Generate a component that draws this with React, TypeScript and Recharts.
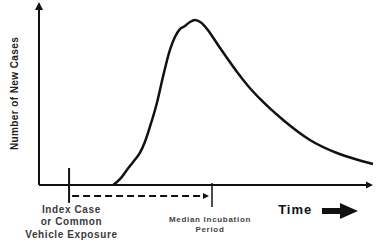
import { LineChart, Line, XAxis, YAxis, ReferenceLine, ReferenceDot } from "recharts";

// epidemic curve, point source outbreak (arbitrary units: time 0-100, cases 0-100)
const time = [
  22.2, 24.3, 26.3, 28.4, 30.2, 31.7, 33.2, 35.3, 37.1, 39.2, 40.7, 42.2, 43.7,
  45.2, 46.7, 48.5, 51.2, 53.6, 56.3, 59.3, 62.6, 66.2, 73.1, 81.1, 89.2, 94.6, 100,
];
const newCases = [
  0, 3.3, 8.2, 13.1, 17.5, 23.5, 31.7, 44.8, 59.0, 73.8, 80.9, 85.2, 86.9,
  89.1, 90.2, 88.8, 83.1, 76.5, 69.4, 61.7, 54.1, 47.0, 35.5, 24.6, 17.5, 14.2, 11.5,
];

const INDEX_EXPOSURE = 9;
const MEDIAN_INCUBATION = 51.8;

const yAxisTitle = "Number of New Cases";
const indexLabel = ["Index Case", "or Common", "Vehicle Exposure"];
const medianLabel = ["Median Incubation", "Period"];
const timeLabel = "Time";

const data = time.map((t, i) => ({ t, cases: newCases[i] }));

const FONT = "'Liberation Sans', Arial, sans-serif";
const INK = "#111";

function Head({ cx, cy, dir, len = 7, half = 3.5 }: any) {
  const pts =
    dir === "up"
      ? `${cx},${cy} ${cx - half},${cy + len} ${cx + half},${cy + len}`
      : `${cx},${cy} ${cx - len},${cy - half} ${cx - len},${cy + half}`;
  return <polygon points={pts} fill={INK} />;
}

function BigArrow({ cx, cy }: any) {
  // cx,cy = tip
  const pts = [
    [cx, cy],
    [cx - 18, cy - 8],
    [cx - 18, cy - 3],
    [cx - 36, cy - 3],
    [cx - 36, cy + 3],
    [cx - 18, cy + 3],
    [cx - 18, cy + 8],
  ]
    .map((p) => p.join(","))
    .join(" ");
  return <polygon points={pts} fill={INK} />;
}

function Lines({ cx, cy, lines, size, color, gap, spacing, anchor = "middle", weight = 700 }: any) {
  return (
    <text
      x={cx}
      y={cy}
      textAnchor={anchor}
      fontFamily={FONT}
      fontSize={size}
      fontWeight={weight}
      fill={color}
      letterSpacing={spacing}
    >
      {lines.map((l: string, i: number) => (
        <tspan key={l} x={cx} dy={i === 0 ? 0 : gap}>
          {l}
        </tspan>
      ))}
    </text>
  );
}

export default function App() {
  return (
    <div style={{ position: "absolute", left: 0, top: 0, background: "#fff" }}>
      <LineChart width={378} height={245} data={data} margin={{ top: 0, right: 0, bottom: 0, left: 0 }}>
        <XAxis dataKey="t" type="number" domain={[-11.68, 101.5]} hide />
        <YAxis type="number" domain={[-32.8, 101.1]} hide />

        {/* axes */}
        <ReferenceLine segment={[{ x: 0, y: 0 }, { x: 0, y: 96.5 }]} stroke={INK} strokeWidth={2} />
        <ReferenceDot x={0} y={100} r={0} shape={(p: any) => <Head {...p} dir="up" len={8} half={4} />} />
        <ReferenceLine segment={[{ x: 0, y: 0 }, { x: 98, y: 0 }]} stroke={INK} strokeWidth={2} />
        <ReferenceDot x={100} y={0} r={0} shape={(p: any) => <Head {...p} dir="right" len={7} half={3.5} />} />

        {/* exposure and median incubation markers */}
        <ReferenceLine
          segment={[{ x: INDEX_EXPOSURE, y: 9.3 }, { x: INDEX_EXPOSURE, y: -9.8 }]}
          stroke={INK}
          strokeWidth={2}
        />
        <ReferenceLine
          segment={[{ x: MEDIAN_INCUBATION, y: 1.1 }, { x: MEDIAN_INCUBATION, y: -12 }]}
          stroke={INK}
          strokeWidth={1.5}
        />
        <ReferenceLine
          segment={[{ x: INDEX_EXPOSURE + 0.9, y: -6 }, { x: MEDIAN_INCUBATION - 2.2, y: -6 }]}
          stroke={INK}
          strokeWidth={2}
          strokeDasharray="7 4"
        />
        <ReferenceDot
          x={MEDIAN_INCUBATION - 0.9}
          y={-6}
          r={0}
          shape={(p: any) => <Head {...p} dir="right" len={6} half={3} />}
        />

        <Line
          dataKey="cases"
          type="monotone"
          stroke={INK}
          strokeWidth={2.5}
          dot={false}
          activeDot={false}
          isAnimationActive={false}
        />

        {/* texts */}
        <ReferenceDot
          x={-7.2}
          y={50}
          r={0}
          shape={({ cx, cy }: any) => (
            <text
              x={cx}
              y={cy}
              transform={`rotate(-90 ${cx} ${cy})`}
              textAnchor="middle"
              dominantBaseline="central"
              fontFamily={FONT}
              fontSize={10}
              fontWeight={700}
              letterSpacing={0.4}
              fill="#222"
            >
              {yAxisTitle}
            </text>
          )}
        />
        <ReferenceDot
          x={INDEX_EXPOSURE + 0.7}
          y={-15.3}
          r={0}
          shape={(p: any) => <Lines {...p} lines={indexLabel} size={10} gap={12.5} spacing={0.6} color="#3a3a3a" />}
        />
        <ReferenceDot
          x={MEDIAN_INCUBATION - 0.6}
          y={-20.2}
          r={0}
          shape={(p: any) => <Lines {...p} lines={medianLabel} size={8} gap={10} spacing={0.7} color="#444" />}
        />
        <ReferenceDot
          x={71.6}
          y={-15.8}
          r={0}
          shape={(p: any) => <Lines {...p} lines={[timeLabel]} size={13} gap={0} spacing={1} color={INK} anchor="start" />}
        />
        <ReferenceDot x={95.5} y={-14.2} r={0} shape={(p: any) => <BigArrow {...p} />} />
      </LineChart>
    </div>
  );
}
